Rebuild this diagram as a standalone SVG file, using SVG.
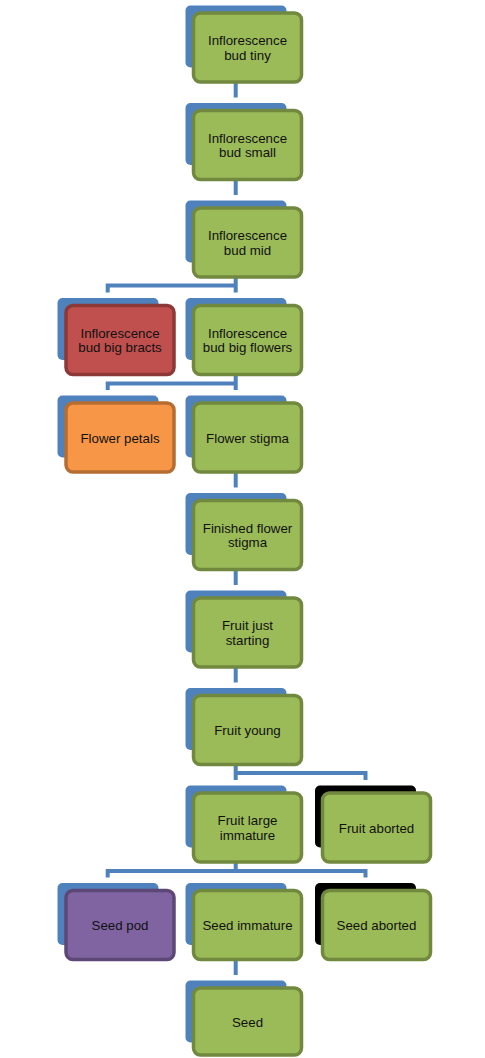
<svg xmlns="http://www.w3.org/2000/svg" width="485" height="1058" viewBox="0 0 485 1058">
<style>
.bg{fill:#ffffff}
.conn{fill:none;stroke:#4f81bd;stroke-width:4;stroke-linejoin:miter}
.sh{fill:#4f81bd}
.shk{fill:#000000}
.box{stroke-width:3.5}
.g{fill:#9bbb59;stroke:#71893f}
.r{fill:#c0504d;stroke:#8c3836}
.o{fill:#f79646;stroke:#b66d31}
.p{fill:#8064a2;stroke:#5c4776}
text{font-family:"Liberation Sans",Arial,sans-serif;font-size:13.3px;fill:#111111;text-anchor:middle}
</style>
<rect class="bg" x="0" y="0" width="485" height="1058"/>
<g id="connectors">
<path class="conn" d="M235.7,82 V97.5"/>
<path class="conn" d="M235.7,179.5 V195"/>
<path class="conn" d="M235.7,276.5 V285.5 M107.7,292.5 V285.5 H235.7 V292.5"/>
<path class="conn" d="M235.7,374 V383.5 M107.7,390 V383.5 H235.7 V390"/>
<path class="conn" d="M235.7,471.5 V487.5"/>
<path class="conn" d="M235.7,569 V585"/>
<path class="conn" d="M235.7,666.5 V682.5"/>
<path class="conn" d="M235.7,764 V773 M235.7,780 V773 H365.5 V780"/>
<path class="conn" d="M235.7,861.5 V871 M107.7,877.5 V871 H365.5 V877.5"/>
<path class="conn" d="M235.7,959 V975"/>
</g>
<g id="n0"><rect class="sh" x="185.5" y="5.5" width="101" height="62" rx="5"/><rect class="box g" x="193.5" y="13" width="108" height="69" rx="7"/><text x="247.5" y="45">Inflorescence</text><text x="247.5" y="59.5">bud tiny</text></g>
<g id="n1"><rect class="sh" x="185.5" y="103" width="101" height="62" rx="5"/><rect class="box g" x="193.5" y="110.5" width="108" height="69" rx="7"/><text x="247.5" y="142.5">Inflorescence</text><text x="247.5" y="157">bud small</text></g>
<g id="n2"><rect class="sh" x="185.5" y="200.5" width="101" height="62" rx="5"/><rect class="box g" x="193.5" y="208" width="108" height="69" rx="7"/><text x="247.5" y="240">Inflorescence</text><text x="247.5" y="254.5">bud mid</text></g>
<g id="n3a"><rect class="sh" x="57.5" y="298" width="101" height="62" rx="5"/><rect class="box r" x="66" y="305.5" width="108" height="69" rx="7"/><text x="120" y="337.5">Inflorescence</text><text x="120" y="352">bud big bracts</text></g>
<g id="n3b"><rect class="sh" x="185.5" y="298" width="101" height="62" rx="5"/><rect class="box g" x="193.5" y="305.5" width="108" height="69" rx="7"/><text x="247.5" y="337.5">Inflorescence</text><text x="247.5" y="352">bud big flowers</text></g>
<g id="n4a"><rect class="sh" x="57.5" y="395.5" width="101" height="62" rx="5"/><rect class="box o" x="66" y="403" width="108" height="69" rx="7"/><text x="120" y="442.5">Flower petals</text></g>
<g id="n4b"><rect class="sh" x="185.5" y="395.5" width="101" height="62" rx="5"/><rect class="box g" x="193.5" y="403" width="108" height="69" rx="7"/><text x="247.5" y="442.5">Flower stigma</text></g>
<g id="n5"><rect class="sh" x="185.5" y="493" width="101" height="62" rx="5"/><rect class="box g" x="193.5" y="500.5" width="108" height="69" rx="7"/><text x="247.5" y="532.5">Finished flower</text><text x="247.5" y="547">stigma</text></g>
<g id="n6"><rect class="sh" x="185.5" y="590.5" width="101" height="62" rx="5"/><rect class="box g" x="193.5" y="598" width="108" height="69" rx="7"/><text x="247.5" y="630">Fruit just</text><text x="247.5" y="644.5">starting</text></g>
<g id="n7"><rect class="sh" x="185.5" y="688" width="101" height="62" rx="5"/><rect class="box g" x="193.5" y="695.5" width="108" height="69" rx="7"/><text x="247.5" y="735">Fruit young</text></g>
<g id="n8a"><rect class="sh" x="185.5" y="785.5" width="101" height="62" rx="5"/><rect class="box g" x="193.5" y="793" width="108" height="69" rx="7"/><text x="247.5" y="825">Fruit large</text><text x="247.5" y="839.5">immature</text></g>
<g id="n8b"><rect class="shk" x="315" y="785.5" width="101" height="62" rx="5"/><rect class="box g" x="322.5" y="793" width="108" height="69" rx="7"/><text x="376.5" y="832.5">Fruit aborted</text></g>
<g id="n9a"><rect class="sh" x="57.5" y="883" width="101" height="62" rx="5"/><rect class="box p" x="66" y="890.5" width="108" height="69" rx="7"/><text x="120" y="930">Seed pod</text></g>
<g id="n9b"><rect class="sh" x="185.5" y="883" width="101" height="62" rx="5"/><rect class="box g" x="193.5" y="890.5" width="108" height="69" rx="7"/><text x="247.5" y="930">Seed immature</text></g>
<g id="n9c"><rect class="shk" x="315" y="883" width="101" height="62" rx="5"/><rect class="box g" x="322.5" y="890.5" width="108" height="69" rx="7"/><text x="376.5" y="930">Seed aborted</text></g>
<g id="n10"><rect class="sh" x="185.5" y="980.5" width="101" height="62" rx="5"/><rect class="box g" x="193.5" y="988" width="108" height="67" rx="7"/><text x="247.5" y="1027">Seed</text></g>
</svg>
